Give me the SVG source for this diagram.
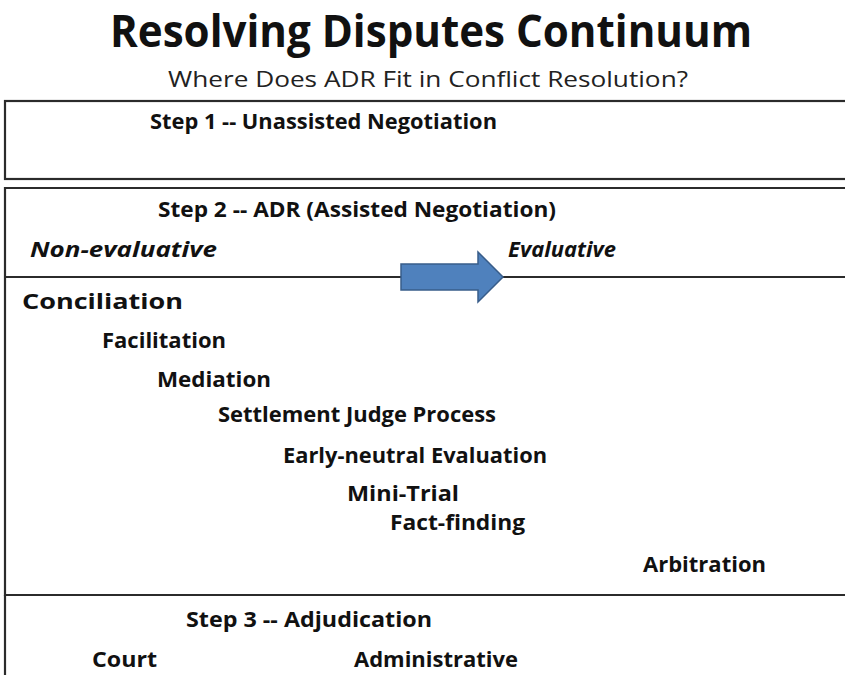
<svg xmlns="http://www.w3.org/2000/svg" width="845" height="675" viewBox="0 0 845 675">
  <style>
    .bg { fill: #ffffff; }
    .frame { fill: none; stroke: #2b2b2b; stroke-width: 2.2; }
    .rule { stroke: #2b2b2b; stroke-width: 2.2; }
    text { font-family: "Open Sans", "Liberation Sans", sans-serif; fill: #111111; }
    .title { font-size: 44px; font-weight: bold; }
    .sub { font-size: 21px; font-weight: normal; fill: #222222; }
    .step { font-size: 21px; font-weight: bold; }
    .axis { font-size: 21px; font-weight: bold; font-style: italic; }
    .item { font-size: 22px; font-weight: bold; }
    .arrow { fill: #4f81bd; stroke: #385d8a; stroke-width: 1.5; }
  </style>

  <rect class="bg" x="0" y="0" width="845" height="675"/>

  <!-- heading -->
  <g id="heading">
    <text class="title" x="110" y="47" textLength="642" lengthAdjust="spacingAndGlyphs">Resolving Disputes Continuum</text>
    <text class="sub" x="168" y="87" textLength="520" lengthAdjust="spacingAndGlyphs">Where Does ADR Fit in Conflict Resolution?</text>
  </g>

  <!-- step 1 panel -->
  <g id="step1">
    <rect class="frame" x="5" y="101" width="850" height="78"/>
    <text class="step" x="150" y="129" textLength="347" lengthAdjust="spacingAndGlyphs">Step 1 -- Unassisted Negotiation</text>
  </g>

  <!-- step 2 panel -->
  <g id="step2">
    <path class="frame" d="M855 188 H5 V595 H855"/>
    <line class="rule" x1="5" y1="277" x2="855" y2="277"/>
    <text class="step" x="158" y="217" textLength="398" lengthAdjust="spacingAndGlyphs">Step 2 -- ADR (Assisted Negotiation)</text>
    <text class="axis" x="30" y="257" textLength="187" lengthAdjust="spacingAndGlyphs">Non-evaluative</text>
    <text class="axis" x="508" y="257" textLength="108" lengthAdjust="spacingAndGlyphs">Evaluative</text>
  </g>

  <!-- direction arrow: non-evaluative toward evaluative -->
  <g id="direction-arrow">
    <path class="arrow" d="M401 264 H478 V252 L503 277 L478 302 V290 H401 Z"/>
  </g>

  <!-- ADR processes -->
  <g id="conciliation"><text class="item" x="22" y="309" textLength="161" lengthAdjust="spacingAndGlyphs">Conciliation</text></g>
  <g id="facilitation"><text class="item" x="102" y="348" textLength="124" lengthAdjust="spacingAndGlyphs">Facilitation</text></g>
  <g id="mediation"><text class="item" x="157" y="387" textLength="114" lengthAdjust="spacingAndGlyphs">Mediation</text></g>
  <g id="settlement-judge"><text class="item" x="218" y="422" textLength="278" lengthAdjust="spacingAndGlyphs">Settlement  Judge Process</text></g>
  <g id="early-neutral"><text class="item" x="283" y="463" textLength="264" lengthAdjust="spacingAndGlyphs">Early-neutral Evaluation</text></g>
  <g id="mini-trial"><text class="item" x="347" y="501" textLength="112" lengthAdjust="spacingAndGlyphs">Mini-Trial</text></g>
  <g id="fact-finding"><text class="item" x="390" y="530" textLength="135" lengthAdjust="spacingAndGlyphs">Fact-finding</text></g>
  <g id="arbitration"><text class="item" x="643" y="572" textLength="123" lengthAdjust="spacingAndGlyphs">Arbitration</text></g>

  <!-- step 3 panel -->
  <g id="step3">
    <path class="frame" d="M5 595 V680"/>
    <text class="step" x="186" y="627" textLength="246" lengthAdjust="spacingAndGlyphs">Step 3 --  Adjudication</text>
    <text class="item" x="92" y="667" textLength="65" lengthAdjust="spacingAndGlyphs">Court</text>
    <text class="item" x="354" y="667" textLength="164" lengthAdjust="spacingAndGlyphs">Administrative</text>
  </g>
</svg>
